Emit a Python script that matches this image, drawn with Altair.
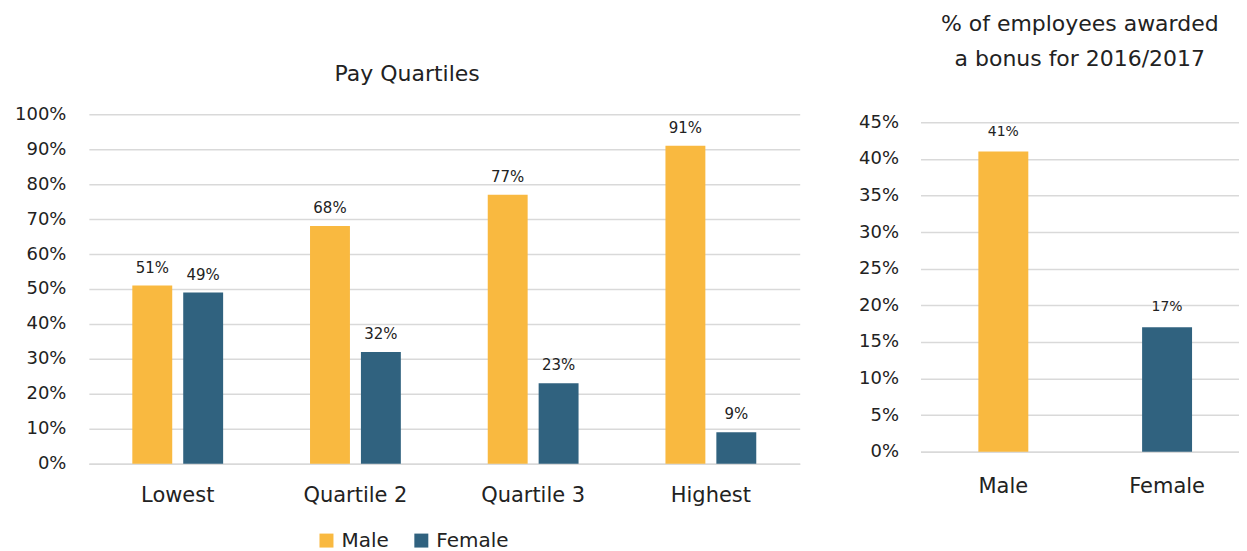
import altair as alt
import pandas as pd

# ---- data ----
quartiles = ["Lowest", "Quartile 2", "Quartile 3", "Highest"]
male_pct = [51, 68, 77, 91]
female_pct = [49, 32, 23, 9]
genders = ["Male", "Female"]
bonus_pct = [41, 17]
colors = ["#F9B940", "#30627F"]

FONT = "DejaVu Sans"
TXT = "#222222"
GRID = "#D9D9D9"

rows = []
for q, m, f in zip(quartiles, male_pct, female_pct):
    rows.append({"Quartile": q, "Gender": "Male", "Pct": m})
    rows.append({"Quartile": q, "Gender": "Female", "Pct": f})
quart_df = pd.DataFrame(rows)
quart_df["Label"] = quart_df["Pct"].astype(str) + "%"

bonus_df = pd.DataFrame({"Gender": genders, "Pct": bonus_pct})
bonus_df["Label"] = bonus_df["Pct"].astype(str) + "%"

color_scale = alt.Scale(domain=genders, range=colors)

# ---- left: pay quartiles ----
xq = alt.X(
    "Quartile:N", sort=quartiles, title=None,
    scale=alt.Scale(paddingInner=0.489, paddingOuter=0.2445),
    axis=alt.Axis(labelAngle=0, labelFontSize=21, labelPadding=21, ticks=False,
                  domainColor=GRID, domainWidth=1.5, labelColor=TXT, labelFont=FONT),
)
xo = alt.XOffset("Gender:N", sort=genders,
                 scale=alt.Scale(paddingInner=0.216, paddingOuter=0))
yq = alt.Y(
    "Pct:Q", title=None, scale=alt.Scale(domain=[0, 100]),
    axis=alt.Axis(values=list(range(0, 101, 10)), labelExpr="datum.value + '%'",
                  labelFontSize=18, labelPadding=23, labelColor=TXT, labelFont=FONT,
                  ticks=False, domain=False, grid=True, gridColor=GRID, gridWidth=1.5),
)

bars_q = alt.Chart(quart_df).mark_bar().encode(
    x=xq, xOffset=xo, y=yq,
    color=alt.Color(
        "Gender:N", scale=color_scale, sort=genders, title=None,
        legend=alt.Legend(orient="none", legendX=228, legendY=417, direction="horizontal",
                          symbolType="square", symbolSize=196, symbolStrokeWidth=0,
                          labelFontSize=20, labelFont=FONT, labelColor=TXT,
                          labelOffset=5, columnPadding=22, symbolOffset=0),
    ),
)
labels_q = alt.Chart(quart_df).mark_text(dy=-18, fontSize=15, font=FONT, color=TXT).encode(
    x=xq, xOffset=xo, y=yq, text="Label:N"
)
left = (bars_q + labels_q).properties(
    width=712, height=350,
    title=alt.Title("Pay Quartiles", fontSize=22, fontWeight="normal", font=FONT,
                    color=TXT, offset=19, frame="bounds"),
)

# ---- right: bonus ----
RH = 338
xb = alt.X(
    "Gender:N", sort=genders, title=None,
    scale=alt.Scale(paddingInner=0.695, paddingOuter=0.32, align=0.552),
    axis=alt.Axis(labelAngle=0, labelFontSize=21, labelPadding=24, ticks=False,
                  domainColor=GRID, domainWidth=1.5, labelColor=TXT, labelFont=FONT),
)
yb = alt.Y(
    "Pct:Q", title=None, scale=alt.Scale(domain=[0, 45], range=[RH, 8]),
    axis=alt.Axis(values=list(range(0, 46, 5)), labelExpr="datum.value + '%'",
                  labelFontSize=18, labelPadding=22, labelColor=TXT, labelFont=FONT,
                  ticks=False, domain=False, grid=True, gridColor=GRID, gridWidth=1.5),
)
bars_b = alt.Chart(bonus_df).mark_bar().encode(
    x=xb, y=yb,
    color=alt.Color("Gender:N", scale=color_scale, sort=genders, legend=None),
)
labels_b = alt.Chart(bonus_df).mark_text(dy=-20, fontSize=14, font=FONT, color=TXT).encode(
    x=xb, y=yb, text="Label:N"
)
right = (bars_b + labels_b).properties(
    width=319, height=RH,
    title=alt.Title(["% of employees awarded", "a bonus for 2016/2017"], fontSize=22,
                    fontWeight="normal", font=FONT, color=TXT, lineHeight=35,
                    offset=42, frame="group"),
)

chart = (
    alt.hconcat(left, right, spacing=58)
    .resolve_scale(color="independent")
    .properties(padding={"left": 6, "top": 5, "right": 0, "bottom": 0}, background="white")
    .configure_view(stroke=None)
)

chart.save("out.html", embed_options={"renderer": "svg", "actions": False})
